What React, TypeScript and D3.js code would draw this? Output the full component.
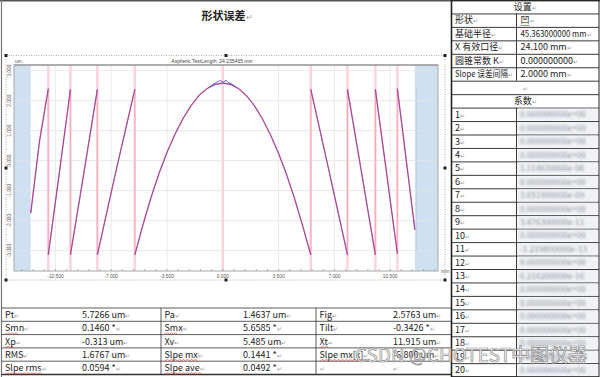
import React from 'react';
import * as d3 from 'd3';

// ---------- data ----------
const yTicks = [-3, -2, -1, 0, 1, 2, 3];
const xTicks = [-10.5, -7, -3.5, 0, 3.5, 7, 10.5];
const jumpX = [-10.95, -9.56, -7.87, -5.52, 0, 5.52, 7.82, 9.57, 10.95];
const aperture = 12.05;

// wrapped profile segments [mm, um]
const seg1 = [[-12.05, -1.75], [-11.5, 0.65], [-10.95, 2.4]];
const seg2 = [[-10.95, -3.14], [-10.25, -0.38], [-9.56, 2.38]];
const seg3 = [[-9.56, -3.14], [-8.7, -0.36], [-7.87, 2.38]];
const seg4 = [[-7.87, -3.14], [-6.7, -0.34], [-5.52, 2.38]];
const segCenter = [
  [-5.52, -3.14], [-5.0, -2.12], [-4.5, -1.22], [-4.0, -0.42], [-3.5, 0.28], [-3.0, 0.88],
  [-2.5, 1.4], [-2.0, 1.83], [-1.5, 2.17], [-1.0, 2.4], [-0.5, 2.54], [0, 2.59], [0.5, 2.54],
  [1.0, 2.4], [1.5, 2.16], [2.0, 1.82], [2.5, 1.38], [3.0, 0.85], [3.5, 0.24], [4.0, -0.46],
  [4.5, -1.26], [5.0, -2.16], [5.52, -3.14],
];
const seg6 = [[5.52, 2.38], [6.67, -0.36], [7.82, -3.14]];
const seg7 = [[7.82, 2.38], [8.7, -0.38], [9.57, -3.14]];
const seg8 = [[9.57, 2.38], [10.26, -0.36], [10.95, -3.1]];
const seg9 = [[10.95, 2.4], [11.5, 0.05], [12.05, -2.31]];
const segments = [seg1, seg2, seg3, seg4, segCenter, seg6, seg7, seg8, seg9];
const peakNoise = [[-0.9, 2.44], [-0.6, 2.55], [-0.35, 2.63], [-0.15, 2.67], [0.05, 2.62], [0.2, 2.69], [0.35, 2.6], [0.55, 2.56], [0.8, 2.46]];

const settingLabels = ['形状', '基础半径', 'X 有效口径', '圆锥常数 K', 'Slope 误差间隔'];
const settingValues = ['凹', '45.363000000 mm', '24.100 mm', '0.000000000', '2.0000 mm'];
const coefValues = [
  '0.000000000e+00', '0.000000000e+00', '0.000000000e+00', '0.000000000e+00', '1.114630000e-06',
  '0.000000000e+00', '3.651900000e-09', '0.000000000e+00', '3.476300000e-11', '0.000000000e+00',
  '-1.219800000e-13', '0.000000000e+00', '6.216200000e-16', '0.000000000e+00', '0.000000000e+00',
  '0.000000000e+00', '0.000000000e+00', '0.000000000e+00', '0.000000000e+00', '0.000000000e+00',
];
const statLabels = [
  ['Pt', 'Pa', 'Fig'],
  ['Smn', 'Smx', 'Tilt'],
  ['Xp', 'Xv', 'Xt'],
  ['RMS', 'Slpe mx', 'Slpe mx[x]'],
  ['Slpe rms', 'Slpe ave', ''],
];
const statValues = [
  ['5.7266 um', '1.4637 um', '2.5763 um'],
  ['0.1460  *', '5.6585  *', '-0.3426  *'],
  ['-0.313 um', '5.485 um', '11.915 um'],
  ['1.6767 um', '0.1441  *', '-6.800 um'],
  ['0.0594  *', '0.0492  *', ''],
];
const squiggled = ['Smn', 'Xp', 'Slpe rms', 'Smx', 'Slpe mx', 'Slpe ave', 'Xt', 'Slpe mx[x]'];

// ---------- layout ----------
const W = 600, H = 377;
const plot = { l: 14, r: 438, t: 65, b: 271 };
const FONT = '"Noto Sans CJK SC", "Open Sans", sans-serif';
const MARK = '#9a9a9a';

const x = d3.scaleLinear().domain([-13.1, 13.5]).range([plot.l, plot.r]);
const y = d3.scaleLinear().domain([-3.68, 3.19]).range([plot.b, plot.t]);
const line = d3.line<number[]>().x(d => x(d[0])).y(d => y(d[1]));

const minorTicks = d3.range(-18, 20).map(i => i * 0.7).filter(v => v > -13.1 && v < 13.5);

function squiggle(x0: number, y0: number, w: number) {
  let p = `M${x0},${y0}`;
  for (let i = 0; i * 2 < w; i++) p += ` L${x0 + i * 2 + 1},${y0 + (i % 2 ? -0.7 : 0.7)}`;
  return p;
}

function T({ x: tx, y: ty, s, size = 9, anchor = 'start', mark = true, bold = false, fill = '#222', len }: any) {
  return (
    <text x={tx} y={ty} fontSize={size} fontFamily={FONT} textAnchor={anchor} fill={fill} fontWeight={bold ? 'bold' : 'normal'}>
      {len ? <tspan textLength={len} lengthAdjust="spacingAndGlyphs">{s}</tspan> : s}
      {mark ? <tspan fill={MARK} fontSize={size * 0.7} fontWeight="normal">↵</tspan> : null}
    </text>
  );
}

export default function App() {
  const rowH = 13.45;
  const tx0 = 451.5, tx1 = 516.5, tx2 = 599;
  const bRows = [308, 321.3, 334.6, 347.9, 361.2, 374.5];
  const bCols = [1.5, 161, 316, 451.5];
  const labelX = [5, 164.5, 319.5];
  const valueX = [82, 243, 393];
  return (
    <svg width={W} height={H} style={{ position: 'absolute', left: 0, top: 0, background: '#fff' }}>
      <defs>
        <filter id="blur" x="-10%" y="-50%" width="120%" height="200%">
          <feGaussianBlur stdDeviation="1.3" />
        </filter>
        <clipPath id="pc"><rect x={plot.l} y={plot.t} width={plot.r - plot.l} height={plot.b - plot.t} /></clipPath>
      </defs>
      {/* outer borders */}
      <line x1={0} x2={W} y1={0.75} y2={0.75} stroke="#555" strokeWidth={1.5} />
      <line x1={1.5} x2={1.5} y1={0} y2={H} stroke="#777" strokeWidth={1.2} />

      {/* title */}
      <T x={227} y={20} s="形状误差" size={11} bold anchor="middle" />

      {/* chart selection frame */}
      <rect x={6} y={55.5} width={439} height={224.5} fill="none" stroke="#999" strokeWidth={0.8} strokeDasharray="1,1.5" />
      {[[6, 55.5], [226, 55.5], [445, 55.5], [6, 168], [445, 168], [6, 280], [226, 280], [445, 280]].map(([hx, hy], i) => (
        <rect key={i} x={hx - 1.5} y={hy - 1.5} width={3} height={3} fill="#222" />
      ))}

      {/* plot */}
      <rect x={plot.l} y={plot.t} width={plot.r - plot.l} height={plot.b - plot.t} fill="#fff" />
      <rect x={plot.l} y={plot.t} width={x(-aperture) - plot.l} height={plot.b - plot.t} fill="#cfe1f1" />
      <rect x={x(aperture)} y={plot.t} width={plot.r - x(aperture)} height={plot.b - plot.t} fill="#cfe1f1" />
      <line x1={x(12.15)} x2={x(12.15)} y1={y(2.4)} y2={y(-3.0)} stroke="#b8c8d8" strokeWidth={0.6} />
      {yTicks.map(v => (
        <line key={v} x1={plot.l} x2={plot.r} y1={y(v)} y2={y(v)} stroke="#e2e2e2" strokeWidth={0.8} />
      ))}
      {xTicks.map(v => (
        <line key={v} x1={x(v)} x2={x(v)} y1={plot.t} y2={plot.b} stroke="#e6e6e6" strokeWidth={0.8} />
      ))}
      {jumpX.map(v => (
        <line key={v} x1={x(v)} x2={x(v)} y1={plot.t} y2={plot.b} stroke="#fcd2db" strokeWidth={2.4} />
      ))}
      <g clipPath="url(#pc)">
        {segments.slice(0, -1).map((s, i) => {
          const a = s[s.length - 1], b = segments[i + 1][0];
          return <line key={i} x1={x(a[0])} x2={x(b[0])} y1={y(a[1])} y2={y(b[1])} stroke="#f4a4b6" strokeWidth={0.9} />;
        })}
        {segments.map((s, i) => (
          <path key={i} d={line(s) || ''} fill="none" stroke="#ee6690" strokeWidth={1.35} />
        ))}
        {segments.map((s, i) => (
          <path key={'b' + i} d={line(s) || ''} fill="none" stroke="#4a38b8" strokeWidth={0.7} opacity={0.8} />
        ))}
        <path d={line(peakNoise) || ''} fill="none" stroke="#3a4ee0" strokeWidth={0.8} />
      </g>
      <rect x={plot.l} y={plot.t} width={plot.r - plot.l} height={plot.b - plot.t} fill="none" stroke="#a8a8a8" strokeWidth={1} />
      <line x1={plot.l} x2={plot.r} y1={plot.t} y2={plot.t} stroke="#8a8a8a" strokeWidth={1.2} />
      {minorTicks.map((v, i) => (
        <line key={i} x1={x(v)} x2={x(v)} y1={plot.b} y2={plot.b - 2} stroke="#888" strokeWidth={0.6} />
      ))}
      {yTicks.map(v => (
        <text key={v} transform={`translate(11,${y(v)}) rotate(-90)`} fontSize={4.8} fill="#555" textAnchor="middle" fontFamily="Liberation Sans, sans-serif">
          {v.toFixed(3)}
        </text>
      ))}
      {xTicks.map(v => (
        <text key={v} x={x(v)} y={278} fontSize={4.8} fill="#555" textAnchor="middle" fontFamily="Liberation Sans, sans-serif">
          {v.toFixed(3)}
        </text>
      ))}
      <text x={15} y={63} fontSize={5} fill="#555" fontFamily="Liberation Sans, sans-serif">um</text>
      <text x={441} y={273} fontSize={5} fill="#555" fontFamily="Liberation Sans, sans-serif">mm</text>
      <text x={212} y={63} fontSize={5} fill="#444" textAnchor="middle" fontFamily="Liberation Sans, sans-serif">
        Aspheric TestLength,   24.235465 mm
      </text>

      {/* bottom table */}
      {bRows.map((ry, i) => (
        <line key={i} x1={1.5} x2={tx0} y1={ry} y2={ry} stroke="#333" strokeWidth={i === bRows.length - 1 ? 1.4 : 0.8} />
      ))}
      {bCols.slice(1, 3).map((cx, i) => (
        <line key={i} x1={cx} x2={cx} y1={bRows[0]} y2={bRows[bRows.length - 1]} stroke="#333" strokeWidth={0.8} />
      ))}
      {statLabels.map((row, r) => row.map((lab, c) => (
        <g key={r + '-' + c}>
          <T x={labelX[c]} y={bRows[r] + 10} s={lab} />
          <T x={valueX[c]} y={bRows[r] + 10} s={statValues[r][c]} />
          {squiggled.includes(lab) ? (
            <path d={squiggle(labelX[c], bRows[r] + 12.2, lab.length * 4.6)} fill="none" stroke="#e03030" strokeWidth={0.6} />
          ) : null}
        </g>
      )))}

      {/* right table */}
      <line x1={tx0} x2={tx0} y1={0} y2={H} stroke="#222" strokeWidth={1.6} />
      <line x1={tx2} x2={tx2} y1={0} y2={H} stroke="#222" strokeWidth={1} />
      {d3.range(0, 29).map(k => (
        <line key={k} x1={tx0} x2={tx2} y1={Math.min(k * rowH + 0.5, H - 0.5)} y2={Math.min(k * rowH + 0.5, H - 0.5)} stroke="#222" strokeWidth={0.9} />
      ))}
      {d3.range(0, 28).filter(k => k !== 0 && k !== 6 && k !== 7).map(k => (
        <line key={k} x1={tx1} x2={tx1} y1={k * rowH} y2={(k + 1) * rowH} stroke="#222" strokeWidth={0.9} />
      ))}
      <T x={(tx0 + tx2) / 2} y={10} s="设置" anchor="middle" />
      {settingLabels.map((s, i) => (
        <g key={s}>
          <T x={455} y={(i + 1) * rowH + 10} s={s} len={s.length > 8 ? 53 : undefined} />
          <T x={520.5} y={(i + 1) * rowH + 10} s={settingValues[i]} len={settingValues[i].length > 12 ? 66 : undefined} />
        </g>
      ))}
      <line x1={520.5} x2={529.5} y1={rowH + 12} y2={rowH + 12} stroke="#e03030" strokeWidth={0.7} />
      <text x={(tx0 + tx2) / 2} y={6 * rowH + 10} fontSize={6} fill={MARK} textAnchor="middle">↵</text>
      <T x={(tx0 + tx2) / 2} y={7 * rowH + 10} s="系数" anchor="middle" />
      {coefValues.map((v, i) => {
        const top = (i + 8) * rowH;
        return (
          <g key={i}>
            <T x={455} y={top + 10} s={String(i + 1)} />
            <rect x={tx1 + 1} y={top + 1} width={tx2 - tx1 - 2} height={rowH - 1.5} fill="#f1f2f5" />
            <text x={520} y={top + 9.8} fontSize={8.2} fill="#8a8f99" fontFamily={FONT} filter="url(#blur)">{v}</text>
          </g>
        );
      })}

      {/* watermark */}
      <text x={355} y={362} fontSize={19} fontFamily={FONT} fill="#fff" fillOpacity={0.85} stroke="#8a8a8a" strokeWidth={0.7} textLength={232} lengthAdjust="spacingAndGlyphs">
        CSDN @CHOTEST中图仪器
      </text>
    </svg>
  );
}
